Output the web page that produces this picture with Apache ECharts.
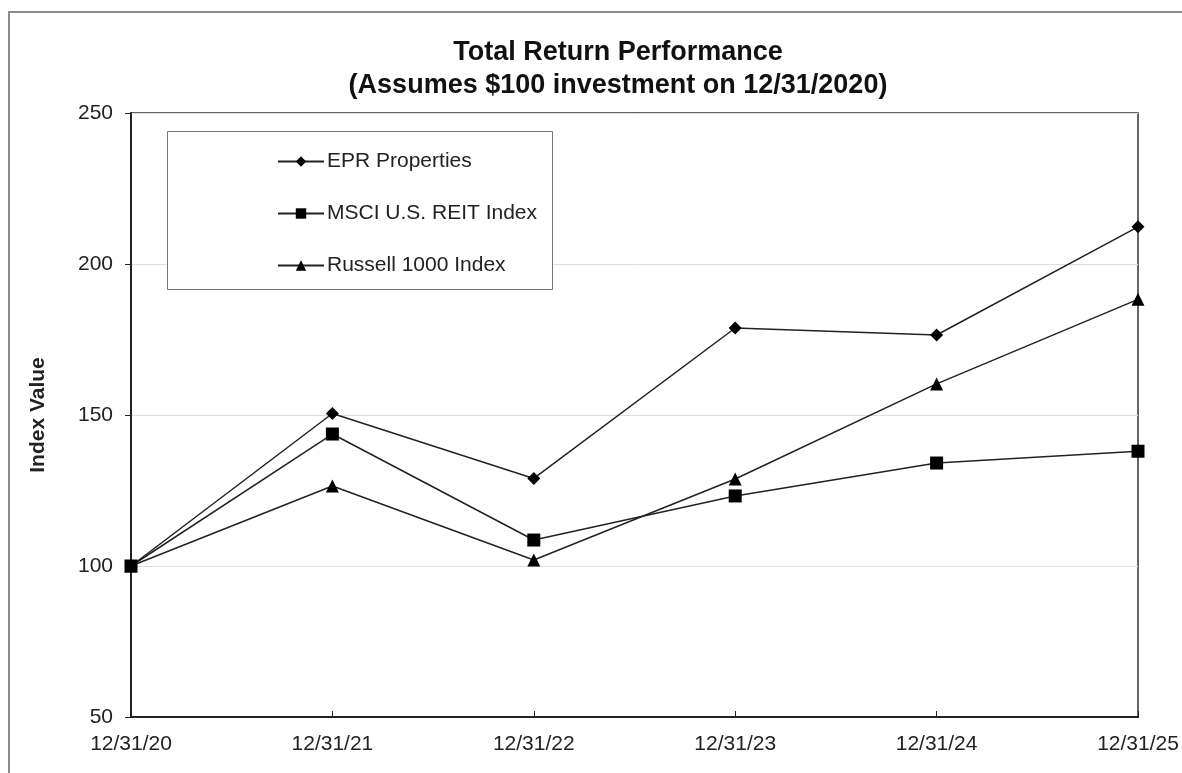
<!DOCTYPE html>
<html>
<head>
<meta charset="utf-8">
<title>Total Return Performance</title>
<script src="https://cdn.jsdelivr.net/npm/echarts@6/dist/echarts.min.js"></script>
<style>
  html, body { margin: 0; padding: 0; background: #fff; }
  #chart { width: 1182px; height: 773px; }
</style>
</head>
<body>
<div id="chart"></div>
<script>
// data
const categories = ['12/31/20', '12/31/21', '12/31/22', '12/31/23', '12/31/24', '12/31/25']
const eprProperties = [100, 150.5, 129, 178.8, 176.5, 212.3]
const msciReit = [100, 143.7, 108.6, 123.2, 134.1, 138]
const russell1000 = [100, 126.5, 102, 128.8, 160.3, 188.3]

const FONT = '"Liberation Sans", Arial, sans-serif'

const chart = echarts.init(document.getElementById('chart'))

// common look for the three black lines
function lineSeries(name, data, symbol, size) {
  return {
    name: name,
    type: 'line',
    data: data,
    symbol: symbol,
    symbolSize: size,
    showAllSymbol: true,
    lineStyle: { color: '#222', width: 1.5 },
    itemStyle: { color: '#000' },
    emphasis: { disabled: true },
  }
}

chart.setOption({
  backgroundColor: '#fff',
  animation: false,
  title: {
    text: 'Total Return Performance\n(Assumes $100 investment on 12/31/2020)',
    left: 613,
    top: 31,
    textAlign: 'center',
    textStyle: {
      fontFamily: FONT,
      fontSize: 27,
      fontWeight: 'bold',
      color: '#111',
      lineHeight: 33,
    },
  },
  graphic: [
    // outer frame (cut at the right and bottom edge)
    {
      type: 'polyline',
      shape: { points: [[9, 800], [9, 12], [1200, 12]] },
      style: { stroke: '#8a8a8a', lineWidth: 2, fill: null },
      silent: true,
    },
    // legend box
    {
      type: 'rect',
      shape: { x: 167.5, y: 131.5, width: 385, height: 158 },
      style: { stroke: '#777', lineWidth: 1, fill: '#fff' },
      z: 5,
      silent: true,
    },
  ],
  legend: {
    orient: 'vertical',
    left: 272,
    top: 146,
    itemWidth: 46,
    itemHeight: 13,
    itemGap: 31,
    z: 10,
    selectedMode: false,
    textStyle: { fontFamily: FONT, fontSize: 21, color: '#222', padding: [0, 0, 0, -2] },
    data: ['EPR Properties', 'MSCI U.S. REIT Index', 'Russell 1000 Index'],
  },
  grid: {
    left: 131,
    right: 44,
    top: 113,
    bottom: 56,
    show: true,
    borderColor: '#333',
    borderWidth: 1.5,
    containLabel: false,
  },
  xAxis: {
    type: 'category',
    data: categories,
    boundaryGap: false,
    axisLine: { lineStyle: { color: '#222', width: 2 } },
    axisTick: { show: true, length: 6, inside: true, lineStyle: { color: '#222' } },
    axisLabel: { fontFamily: FONT, fontSize: 21, color: '#222', margin: 17 },
    splitLine: { show: false },
  },
  yAxis: {
    type: 'value',
    min: 50,
    max: 250,
    interval: 50,
    name: 'Index Value',
    nameLocation: 'middle',
    nameGap: 82,
    nameRotate: 90,
    nameTextStyle: { fontFamily: FONT, fontSize: 21, fontWeight: 'bold', color: '#222' },
    axisLine: { show: true, lineStyle: { color: '#222', width: 2 } },
    axisTick: { show: true, length: 6, lineStyle: { color: '#222' } },
    axisLabel: { fontFamily: FONT, fontSize: 21, color: '#222', margin: 18 },
    splitLine: { show: true, lineStyle: { color: '#dedede', width: 1 } },
  },
  series: [
    lineSeries('EPR Properties', eprProperties, 'diamond', 13),
    lineSeries('MSCI U.S. REIT Index', msciReit, 'rect', 13),
    lineSeries('Russell 1000 Index', russell1000, 'triangle', 13),
  ],
})
</script>
</body>
</html>
